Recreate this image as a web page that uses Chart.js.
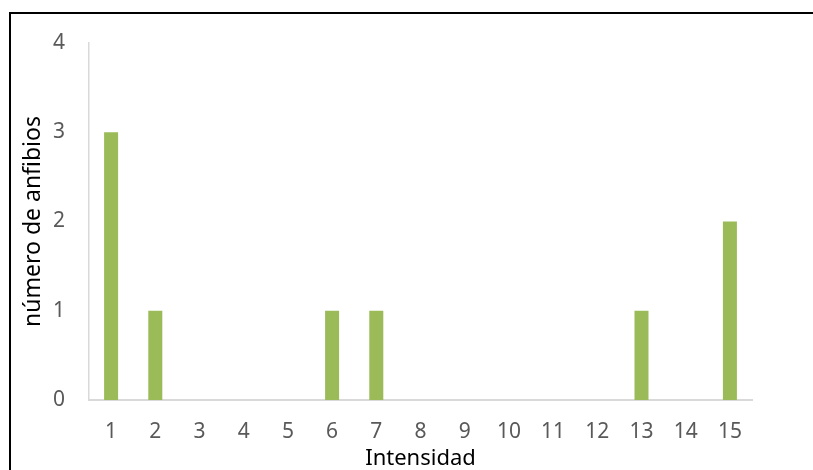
<!DOCTYPE html>
<html>
<head>
<meta charset="utf-8">
<script src="https://cdn.jsdelivr.net/npm/chart.js@4"></script>
<style>
    html, body { margin: 0; padding: 0; background: #fff; overflow: hidden; }
    #wrap { position: relative; width: 813px; height: 470px; overflow: hidden; }
    #frame {
        position: absolute; left: 9px; top: 12px; width: 820px; height: 480px;
        border-top: 2px solid #000; border-left: 2px solid #000;
    }
    canvas { position: absolute; left: 0; top: 0; }
</style>
</head>
<body>
<div id="wrap">
    <div id="frame"></div>
    <canvas id="myChart" width="813" height="470"></canvas>
</div>
<script>
// intensidad (categorias) y numero de anfibios
const intensidades = ['1', '2', '3', '4', '5', '6', '7', '8', '9', '10', '11', '12', '13', '14', '15'];
const anfibios = [3, 1, 0, 0, 0, 1, 1, 0, 0, 0, 0, 0, 1, 0, 2];
const yTicks = [0, 1, 2, 3, 4];

const ctx = document.getElementById('myChart').getContext('2d');
const myChart = new Chart(ctx, {
    type: 'bar',
    data: {
        labels: intensidades,
        datasets: [{
            label: 'número de anfibios',
            data: anfibios,
            backgroundColor: '#9BBB59',
            borderWidth: 0,
            barPercentage: 1,
            categoryPercentage: 0.317
        }]
    },
    options: {
        responsive: false,
        animation: false,
        devicePixelRatio: 1,
        layout: { padding: { top: 43, right: 61, left: 0, bottom: 0 } },
        plugins: { legend: { display: false }, tooltip: { enabled: false } },
        scales: {
            x: {
                grid: { display: false, drawTicks: false },
                border: { display: true, color: '#D9D9D9', width: 2 },
                ticks: { color: '#595959', padding: 19, font: { family: 'Noto Sans', size: 21 } },
                title: {
                    display: true, text: 'Intensidad', color: '#000',
                    padding: 0, font: { family: 'Noto Sans', size: 22, lineHeight: 1 }
                },
                afterFit: (scale) => { scale.height = 70; }
            },
            y: {
                min: 0,
                max: 4,
                afterBuildTicks: (scale) => { scale.ticks = yTicks.map(v => ({ value: v })); },
                grid: { display: false, drawTicks: false },
                border: { display: true, color: '#D9D9D9', width: 1.5 },
                ticks: { color: '#595959', padding: 24, font: { family: 'Noto Sans', size: 21 } },
                title: {
                    display: true, text: 'número de anfibios', color: '#000',
                    padding: { top: 22, bottom: 0 }, font: { family: 'Noto Sans', size: 23, lineHeight: 1 }
                },
                afterFit: (scale) => { scale.width = 89; }
            }
        }
    }
});
</script>
</body>
</html>
